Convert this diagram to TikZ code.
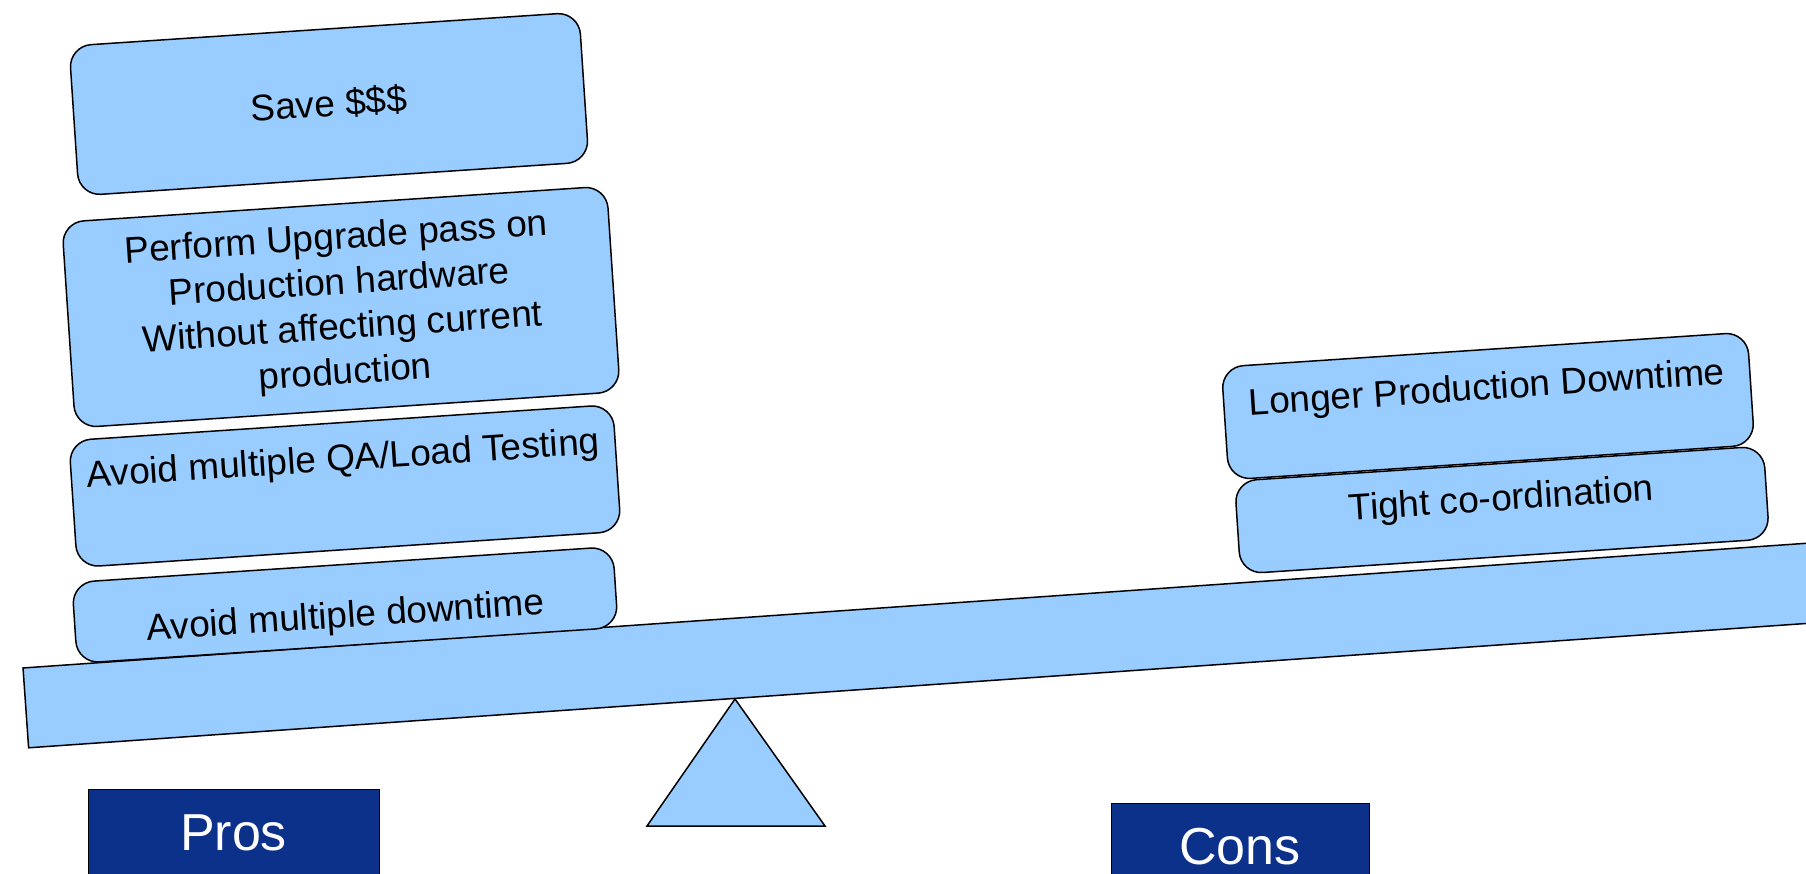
\documentclass[tikz,border=0pt]{standalone}
\usepackage{fontspec}
\setmainfont{Liberation Sans}
\usepackage{tikz}
\usetikzlibrary{positioning}
\definecolor{sclightblue}{RGB}{153,204,255}
\definecolor{scnavy}{RGB}{11,49,139}
\tikzstyle{weight} = [rectangle, rounded corners=22pt, draw=black, fill=sclightblue, line width=1.5pt, inner sep=0pt, align=center, rotate=3.8, font=\fontsize{37}{45}\selectfont]
\tikzstyle{plank} = [rectangle, draw=black, fill=sclightblue, line width=1.5pt, minimum width=1820pt, minimum height=80pt, rotate=4]
\tikzstyle{fulcrum} = [draw=black, fill=sclightblue, line width=1.5pt, line join=miter]
\tikzstyle{sidelabel} = [rectangle, draw=black, fill=scnavy, text=white, line width=1pt, inner sep=0pt, font=\fontsize{52}{60}\selectfont]

\begin{document}
\begin{tikzpicture}[x=1pt, y=-1pt]
\useasboundingbox (0,0) rectangle (1806,874);
% Beam on its pivot
\draw[fulcrum] (735,699) -- (647,826) -- (825,826) -- cycle;
\node (beam) [plank] at (933.6,644.4) {};

% Pros side
\node (save) [weight, minimum width=511pt, minimum height=150pt] at (329,104) {Save \$\$\$};
\node (upgrade) [weight, minimum width=546pt, minimum height=206pt] at (341,307) {Perform Upgrade pass on\\Production hardware\\Without affecting current\\production};
\node (qatest) [weight, minimum width=545pt, minimum height=127pt, text height=27pt, text depth=58pt] at (345,486) {Avoid multiple QA/Load Testing};
\node (downtime) [weight, minimum width=542pt, minimum height=81pt, text height=53pt, text depth=8pt] at (345,605) {Avoid multiple downtime};

% Cons side
\node (longer) [weight, minimum width=527pt, minimum height=113pt, text height=27pt, text depth=40pt] at (1488,406) {Longer Production Downtime};
\node (tight) [weight, minimum width=530pt, minimum height=93pt, text height=27pt, text depth=26pt] at (1502,510) {Tight co-ordination};

% Labels
\node (pros) [sidelabel, minimum width=291pt, minimum height=88pt] at (233.5,833) {Pros};
\node (cons) [sidelabel, minimum width=258pt, minimum height=88pt] at (1240,847) {Cons};
\end{tikzpicture}
\end{document}
